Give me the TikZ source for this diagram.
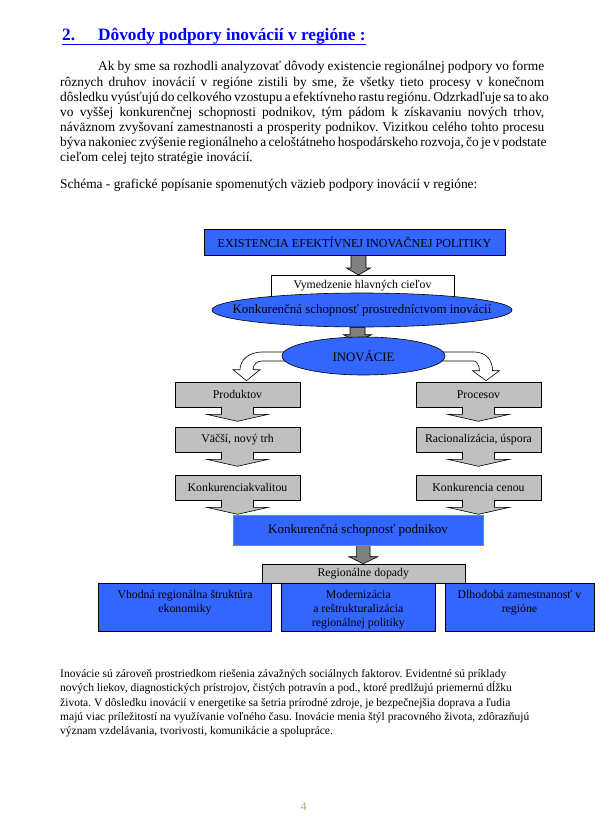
\documentclass[tikz,border=0pt]{standalone}
\usepackage{fontspec}
\setmainfont{Liberation Serif}
\usetikzlibrary{calc, shapes.geometric}
\definecolor{boxblue}{RGB}{51,102,255}
\definecolor{boxgray}{RGB}{192,192,192}
\definecolor{arrowgray}{RGB}{128,128,128}
\definecolor{frameorange}{RGB}{255,102,0}
\definecolor{titleblue}{RGB}{0,0,255}
\definecolor{pagetan}{RGB}{196,160,120}
\pgfdeclarelayer{paper}
\pgfdeclarelayer{behind}
\pgfsetlayers{paper,behind,main}
\frenchspacing

% gray block arrow: from, to, x centre, half shaft, half head
\newcommand{\blockarrow}[5]{%
  \filldraw[fill=arrowgray, line width=0.6pt] let \p1=(#1), \p2=(#2) in
    ({(#3-#4)*1pt},\y1) -- ({(#3-#4)*1pt},{\y2+7pt}) -- ({(#3-#5)*1pt},{\y2+7pt}) -- ({#3*1pt},\y2)
    -- ({(#3+#5)*1pt},{\y2+7pt}) -- ({(#3+#4)*1pt},{\y2+7pt}) -- ({(#3+#4)*1pt},\y1) -- cycle;}
% arrow under a gray box
\newcommand{\callout}[1]{%
  \filldraw[fill=boxgray, line width=0.6pt] let \p1=(#1.south) in
    ({\x1-16pt},{\y1+0.5pt}) -- ({\x1-16pt},{\y1-7pt}) -- ({\x1-31pt},{\y1-7pt}) -- (\x1,{\y1-14pt})
    -- ({\x1+31pt},{\y1-7pt}) -- ({\x1+16pt},{\y1-7pt}) -- ({\x1+16pt},{\y1+0.5pt});}

\begin{document}
\begin{tikzpicture}[x=1pt, y=-1pt,
    ttl/.style={anchor=base west, inner sep=0pt, text=titleblue, font=\bfseries\fontsize{17.3}{20}\selectfont},
    txt/.style={anchor=base west, inner sep=0pt, font=\fontsize{13.4}{15}\selectfont},
    small/.style={anchor=base west, inner sep=0pt, font=\fontsize{11.5}{14}\selectfont},
    boxfont/.style={font=\fontsize{11.8}{14}\selectfont},
    boxtext/.style={inner sep=0pt, align=center, anchor=north, font=\fontsize{11.8}{14}\selectfont},
    bluebox/.style={draw, fill=boxblue, inner sep=0pt, line width=0.6pt},
    graybox/.style={draw, fill=boxgray, inner sep=0pt, line width=0.6pt, minimum width=125pt, minimum height=25pt, boxfont},
    oval/.style={ellipse, draw, fill=boxblue, inner sep=0pt, line width=0.6pt}]
\begin{pgfonlayer}{paper}
  \fill[white] (0,0) rectangle (609,834);
\end{pgfonlayer}
\useasboundingbox (0,0) rectangle (609,834);

% heading and text
\node[ttl] (num) at (62,41) {2.};
\node[ttl] (head) at (98,41) {Dôvody podpory inovácií v regióne :};
\draw[titleblue, line width=1.2pt] ([yshift=-3.5pt]num.base west) -- ([yshift=-3.5pt]head.base east);

\node[txt] (p1) at (98,71) {\makebox[446pt][s]{Ak by sme sa rozhodli analyzovať dôvody existencie regionálnej podpory vo forme}};
\node[txt] (p2) at (60,86.1) {\makebox[484pt][s]{rôznych druhov inovácií v regióne zistili by sme, že všetky tieto procesy v konečnom}};
\node[txt] (p3) at (60,101.2) {\makebox[484pt][s]{dôsledku vyúsťujú do celkového vzostupu a efektívneho rastu regiónu. Odzrkadľuje sa to ako}};
\node[txt] (p4) at (60,116.3) {\makebox[484pt][s]{vo vyššej konkurenčnej schopnosti podnikov, tým pádom k získavaniu nových trhov,}};
\node[txt] (p5) at (60,131.4) {\makebox[484pt][s]{náväznom zvyšovaní zamestnanosti a prosperity podnikov. Vizitkou celého tohto procesu}};
\node[txt] (p6) at (60,146.5) {\makebox[484pt][s]{býva nakoniec zvýšenie regionálneho a celoštátneho hospodárskeho rozvoja, čo je v podstate}};
\node[txt] (p7) at (60,161.6) {cieľom celej tejto stratégie inovácií.};
\node[txt] (schema) at (60,188.3) {Schéma - grafické popísanie spomenutých väzieb podpory inovácií v regióne:};

\node[small] (q1) at (60,677.5) {Inovácie sú zároveň prostriedkom riešenia závažných sociálnych faktorov. Evidentné sú príklady};
\node[small] (q2) at (60,691.8) {nových liekov, diagnostických prístrojov, čistých potravín a pod., ktoré predlžujú priemernú dĺžku};
\node[small] (q3) at (60,706.1) {života. V dôsledku inovácií v energetike sa šetria prírodné zdroje, je bezpečnejšia doprava a ľudia};
\node[small] (q4) at (60,720.4) {majú viac príležitostí na využívanie voľného času. Inovácie menia štýl pracovného života, zdôrazňujú};
\node[small] (q5) at (60,734.7) {význam vzdelávania, tvorivosti, komunikácie a spolupráce.};

\node[anchor=base west, inner sep=0pt, text=pagetan, font=\fontsize{12}{14}\selectfont] (page) at (300.5,810) {4};

% diagram
\node[bluebox, minimum width=301pt, minimum height=26pt, font=\fontsize{12.1}{14}\selectfont] (ex) at (354.5,242) {EXISTENCIA EFEKTÍVNEJ INOVAČNEJ POLITIKY};
\node[draw, fill=white, inner sep=0pt, line width=0.6pt, minimum width=183pt, anchor=north, text height=13pt, text depth=10pt, boxfont] (vym) at (362.5,275) {Vymedzenie hlavných cieľov};
\node[oval, minimum width=300pt, minimum height=34pt, font=\fontsize{12.9}{15}\selectfont] (konk) at (362,310) {\makebox[0pt]{Konkurenčná schopnosť prostredníctvom inovácií}};
\node[oval, minimum width=163pt, minimum height=38pt, font=\fontsize{12.8}{15}\selectfont] (inov) at (363.5,356) {INOVÁCIE};

\node[graybox] (prod) at (237.5,394.5) {Produktov};
\node[graybox] (trh) at (237.5,439.5) {Väčší, nový trh};
\node[graybox] (kval) at (237.5,487.5) {Konkurenciakvalitou};
\node[graybox] (proc) at (478.5,394.5) {Procesov};
\node[graybox] (rac) at (478.5,439.5) {Racionalizácia, úspora};
\node[graybox] (cena) at (478.5,487.5) {Konkurencia cenou};
\callout{prod}
\callout{trh}
\callout{kval}
\callout{proc}
\callout{rac}
\callout{cena}

\node[bluebox, draw=frameorange, minimum width=250pt, minimum height=30pt, font=\fontsize{13}{15}\selectfont] (podn) at (358,530) {Konkurenčná schopnosť podnikov};
\node[graybox, minimum width=203pt, minimum height=19pt] (dopady) at (363.3,573.5) {Regionálne dopady};
\node[bluebox, minimum width=173.4pt, minimum height=48pt] (vhod) at (185,607) {};
\node[bluebox, minimum width=153.3pt, minimum height=48pt] (mod) at (358.3,607) {};
\node[bluebox, minimum width=149pt, minimum height=48pt] (dlho) at (519.5,607) {};
\node[boxtext] (vhodt) at ([yshift=-7.5pt]vhod.north) {Vhodná regionálna štruktúra\\ekonomiky};
\node[boxtext] (modt) at ([yshift=-7.5pt]mod.north) {Modernizácia\\a reštrukturalizácia\\regionálnej politiky};
\node[boxtext] (dlhot) at ([yshift=-7pt]dlho.north) {Dlhodobá zamestnanosť v\\regióne};

\begin{pgfonlayer}{behind}
\blockarrow{ex.south}{vym.north}{358.5}{7.5}{12}
\blockarrow{konk.south}{[yshift=-5pt]inov.north}{357.5}{7.5}{14}
\blockarrow{podn.south}{dopady.north}{363.3}{6.7}{14.5}
\filldraw[fill=white, line width=0.6pt] let \p1=(inov.west), \p2=(prod.north) in
  ({\x1+8pt},{\y1+4pt}) -- ({\x2+24.5pt},{\y1+4pt})
  .. controls ({\x2+11.5pt},{\y1+4pt}) and ({\x2+2.5pt},{\y1-4pt}) .. ({\x2+2.5pt},{\y2+12pt})
  -- ({\x2-4.5pt},{\y2+12pt}) -- ({\x2+9pt},{\y2+1pt}) -- ({\x2+22.5pt},{\y2+12pt}) -- ({\x2+15.5pt},{\y2+12pt})
  .. controls ({\x2+15.5pt},{\y2+17pt}) and ({\x2+19.5pt},{\y1-5pt}) .. ({\x2+24.5pt},{\y1-5pt})
  -- ({\x1+8pt},{\y1-5pt}) -- cycle;
\filldraw[fill=white, line width=0.6pt] let \p1=(inov.east), \p2=(proc.north) in
  ({\x1-8pt},{\y1+4pt}) -- ({\x2-4.5pt},{\y1+4pt})
  .. controls ({\x2+7.5pt},{\y1+4pt}) and ({\x2+14pt},{\y1-4pt}) .. ({\x2+14pt},{\y2+11pt})
  -- ({\x2+21pt},{\y2+11pt}) -- ({\x2+7.5pt},{\y2+1pt}) -- ({\x2-6pt},{\y2+11pt}) -- ({\x2+1pt},{\y2+11pt})
  .. controls ({\x2+1pt},{\y2+16pt}) and ({\x2-2pt},{\y1-5pt}) .. ({\x2-4.5pt},{\y1-5pt})
  -- ({\x1-8pt},{\y1-5pt}) -- cycle;
\end{pgfonlayer}
\end{tikzpicture}
\end{document}
